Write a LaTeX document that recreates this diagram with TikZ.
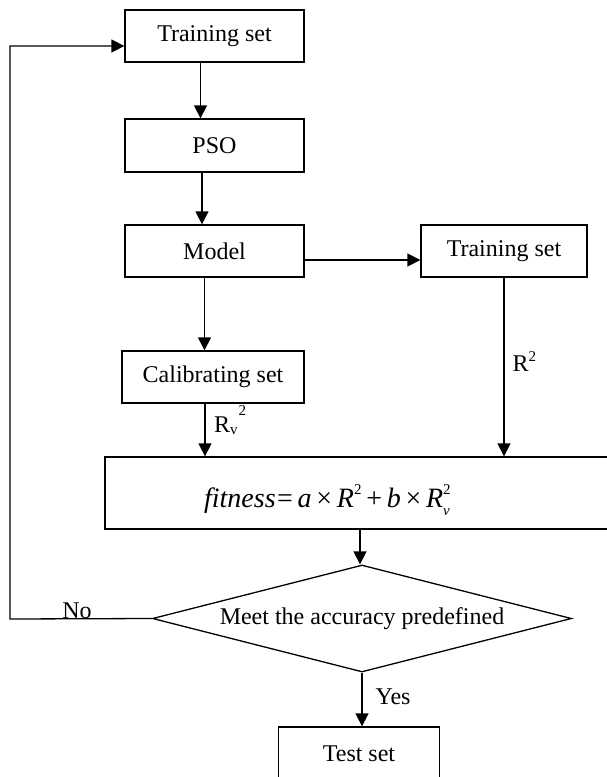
\documentclass[tikz,border=0pt]{standalone}
\usepackage{fontspec}
\setmainfont{Liberation Serif}
\usetikzlibrary{arrows.meta,shapes.geometric}
% small raised / lowered indices set in the text font
\newcommand\upidx[2]{\raisebox{#1}{\fontsize{15}{15}\selectfont #2}}
\newcommand\fsp{\hspace{0.17em}}

\begin{document}
\begin{tikzpicture}[x=1pt,y=-1pt,
  box/.style={draw, line width=1.3pt, rectangle, inner sep=0pt,
              font=\fontsize{24}{28}\selectfont},
  decision/.style={draw, line width=1.3pt, diamond, aspect=4, inner sep=0pt,
              minimum width=419pt, minimum height=107pt,
              font=\fontsize{24}{28}\selectfont},
  arr/.style={line width=1.3pt, -{Triangle[length=13pt,width=13pt]}},
  lbl/.style={font=\fontsize{24}{28}\selectfont, inner sep=0pt}]
\useasboundingbox (0,0) rectangle (606,777);

% boxes of the flow
\node[box, minimum width=179pt, minimum height=52pt] (ts1)   at (214.5,36)    {Training set};
\node[box, minimum width=179pt, minimum height=53pt] (pso)   at (214.5,145.5) {PSO};
\node[box, minimum width=179pt, minimum height=52pt] (model) at (214.5,251)   {Model};
\node[box, minimum width=166pt, minimum height=52pt] (ts2)   at (504,251)     {Training set};
\node[box, minimum width=182pt, minimum height=52pt] (cal)   at (213,377)     {Calibrating set};
\node[box, minimum width=510pt, minimum height=72pt] (fit)   at (360,493)     {};
\node[lbl, anchor=base, font=\fontsize{28}{32}\selectfont] (fittext) at (327,507)
  {\textit{fitness}\hspace{0.05em}=\fsp\textit{a}\fsp×\fsp\textit{R}\upidx{0.45em}{2}\fsp+\fsp\textit{b}\fsp×\fsp\textit{R}\rlap{\upidx{0.45em}{2}}\upidx{-0.3em}{\itshape v}};
\node[decision] (dec) at (362,618.5) {Meet the accuracy predefined};
\node[box, minimum width=161pt, minimum height=53pt] (test)  at (359,753.5)   {Test set};

% main chain
\draw[arr] ([xshift=-14pt]ts1.south) -- ([xshift=-14pt]ts1.south |- pso.north);
\draw[arr] ([xshift=-12.5pt]pso.south) -- ([xshift=-12.5pt]pso.south |- model.north);
\draw[arr] ([yshift=-9pt]model.east) -- ([yshift=-9pt]ts2.west);
\draw[arr] ([xshift=-10pt]model.south) -- ([xshift=-10pt]model.south |- cal.north);
\draw[arr] ([xshift=-8pt]cal.south) -- ([xshift=-8pt]cal.south |- fit.north);
\draw[arr] (ts2.south) -- (ts2.south |- fit.north)
  node[lbl, pos=0.47, right=8pt] (r2) {R\upidx{0.42em}{2}};
\draw[arr] (fit.south) -- (fit.south |- dec.north);
\draw[arr] (dec.south) -- (dec.south |- test.north)
  node[lbl, pos=0.45, right=13pt] (yes) {Yes};

% R_v^2 label beside the calibrating-set arrow
\node[lbl, anchor=base west] (rv2) at (214,432)
  {R\upidx{-0.1em}{v}\hspace{1pt}\upidx{0.68em}{2}};

% feedback loop
\coordinate (loop) at (10,619);
\draw[arr] (dec.west) -- (loop) |- ([yshift=-10pt]ts1.west);
\node[lbl, anchor=base] (no) at (77,618) {No};
\end{tikzpicture}
\end{document}
